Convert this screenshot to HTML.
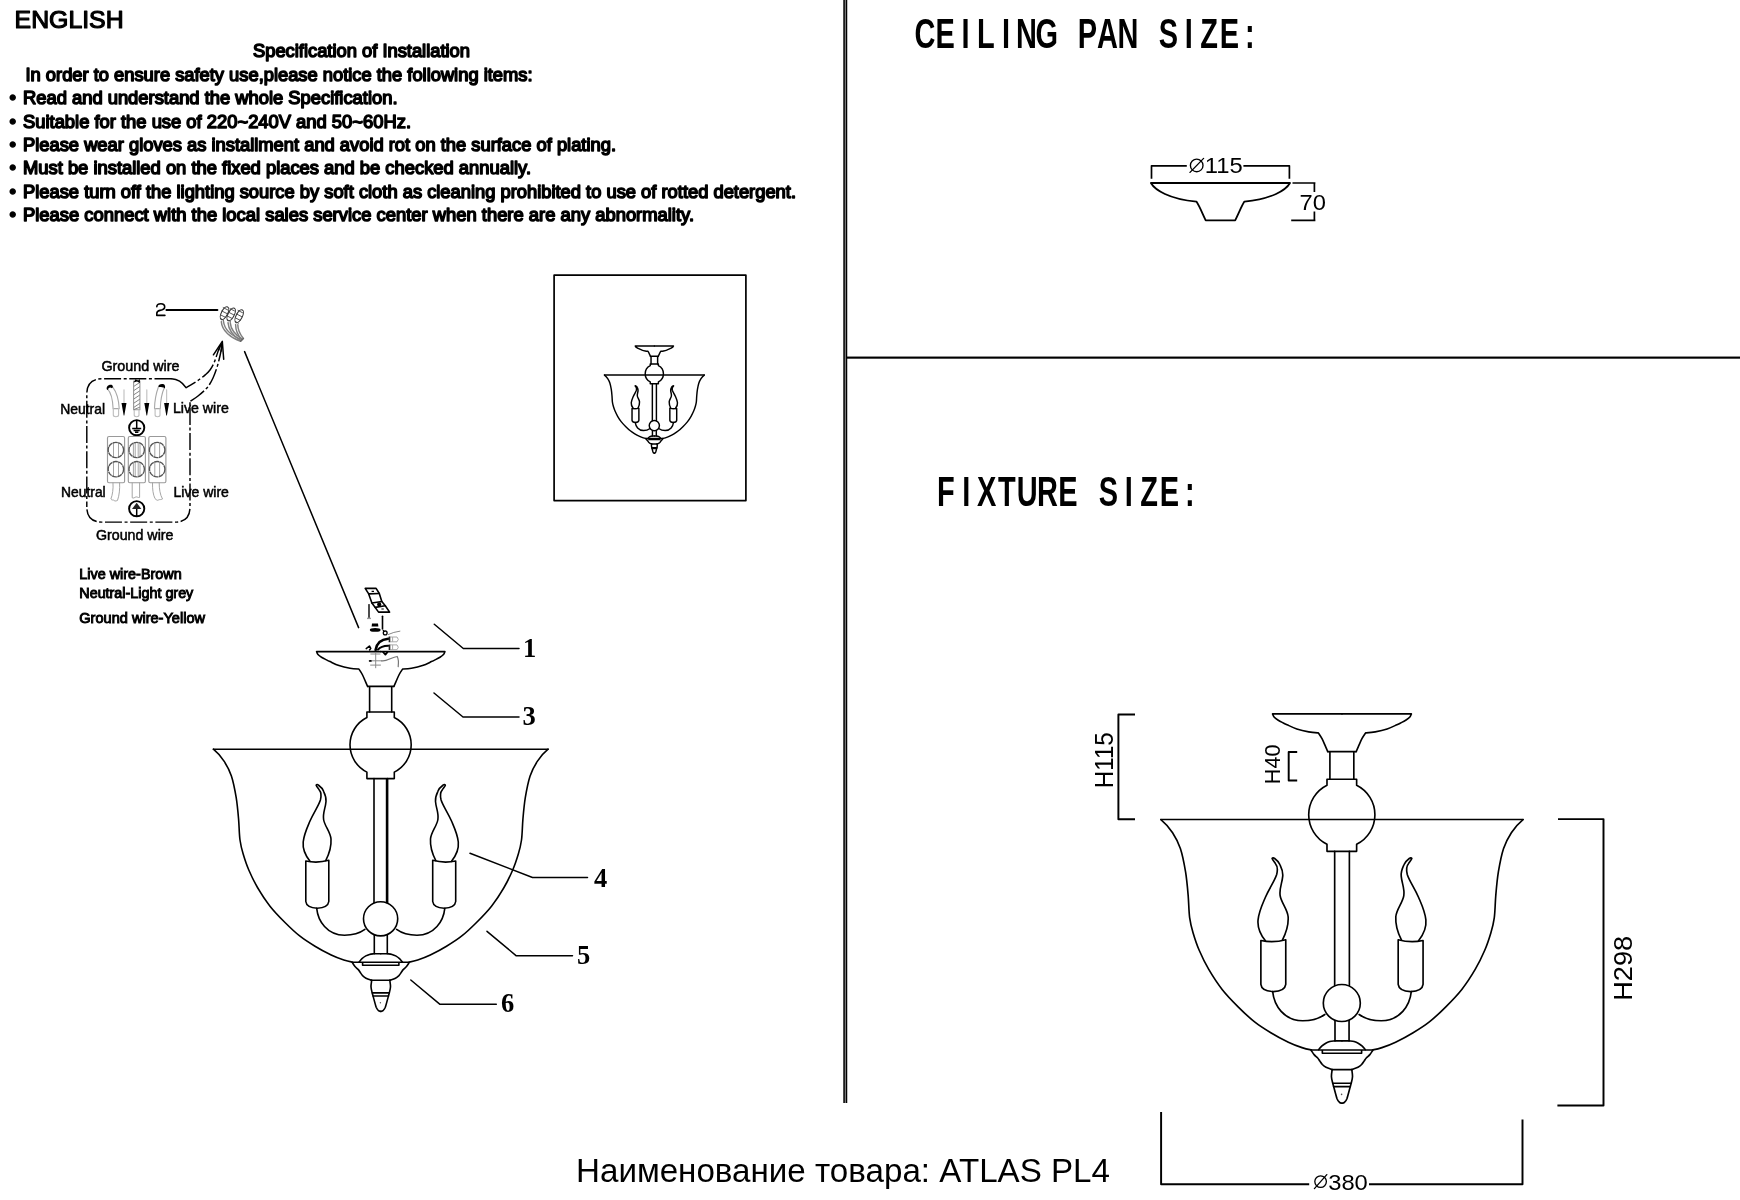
<!DOCTYPE html>
<html lang="en">
<head>
<meta charset="utf-8">
<title>ATLAS PL4 - Specification of Installation</title>
<style>
  html, body { margin: 0; padding: 0; background: #ffffff; }
  body { width: 1740px; height: 1200px; overflow: hidden; position: relative;
         font-family: "Liberation Sans", sans-serif; color: #000; }
  svg { position: absolute; left: 0; top: 0; display: block; will-change: transform; }
  text { font-family: "Liberation Sans", sans-serif; fill: #000; }
  .spec text { font-size: 18.35px; stroke: #000; stroke-width: 1.5px; stroke-linejoin: round; paint-order: stroke; }
  .wl text { font-size: 14.3px; stroke: #000; stroke-width: 0.5px; }
  .num text { font-family: "Liberation Serif", serif; font-weight: bold; font-size: 26.5px; }
  .ttl text { font-weight: bold; font-size: 42px; text-anchor: middle; }
  .ln { fill: none; stroke: #000; stroke-linecap: round; stroke-linejoin: round; }
  .fx * { vector-effect: non-scaling-stroke; }
</style>
</head>
<body>
<svg width="1740" height="1200" viewBox="0 0 1740 1200">
<defs>

<!-- one half (left side) of the fixture, mirrored about x=380.75 -->
<g id="fxhalf" class="fx">
  <!-- glass bowl outline -->
  <path d="M213.4,749.2 C215.5,750.9 221.3,756.9 224.2,761.4 C227.1,765.9 229.4,769.9 231.4,775.9 C233.4,781.9 235,790.4 236.2,797.6 C237.4,804.9 238,812.3 238.6,819.4 C239.2,826.5 239.2,834.3 240,840 C240.8,845.7 241.6,848.8 243.1,853.8 C244.6,858.8 246.3,864.4 248.8,870 C251.2,875.6 254,881.5 257.5,887.5 C261,893.5 265.4,900.4 270,906.2 C274.6,912.1 280,917.5 285,922.5 C290,927.5 295,932.3 300,936.2 C305,940.2 309.8,943.1 315,946.2 C320.2,949.4 326.5,952.7 331.2,955 C336,957.3 340.2,958.8 343.8,960 C347.3,961.2 351,961.9 352.5,962.2"/>
  <!-- candle sleeve -->
  <path d="M305.8,861 Q317.3,863.5 328.8,860.3 V901.5 Q328,907.8 317.3,908.2 Q306.5,907.8 305.8,901.5 Z"/>
  <!-- flame bulb -->
  <path d="M310,861.3 C305,855 302.6,848 303.2,842 C304,834 307,828 310,821 C314,812 318.5,806 320.4,800 C321.4,796 321,792 319.3,790 C318.3,788.3 316.6,786.6 316.2,785.2 C316.6,784.4 317.6,784.4 318.3,785 C321,787 322.8,789 323.6,791.3 C325.4,795 326.3,798 326,801.5 C325.5,808 322.6,813 323.6,819.5 C324.6,826 330.4,832 331,839 C331.5,847 328.6,855 325.7,860.6"/>
  <!-- arm -->
  <path d="M316.7,908.3 C318,921 327,935.2 344.5,935.2 C353,935.2 360,933 364.9,929.4"/>
  <!-- ceiling cup half -->
  <path d="M380.75,651.6 H316.6 C316.8,652.1 317.2,653.6 318,654.5 C318.8,655.4 320.2,656.4 321.5,657.2 C322.8,658 324.1,658.7 325.5,659.4 C326.9,660.1 327.8,660.6 330,661.6 C332.2,662.6 335.7,664.4 339,665.5 C342.3,666.6 346.7,667.6 350,668.2 C353.3,668.8 357.4,669 358.9,669.1 C359.5,670 361.2,672.4 362.3,674.5 C363.4,676.6 364.7,679.8 365.6,681.8 C366.5,683.8 367.3,685.7 367.6,686.5"/>
  <!-- finial half -->
  <path d="M359.2,961.9 C359.7,961.4 360.9,959.6 362,958.6 C363.1,957.6 364.6,956.6 365.8,955.9 C367.1,955.2 368.2,954.8 369.5,954.4 C370.8,954 373,953.9 373.8,953.8 H380.75"/>
  <path d="M352.3,962.6 C352.8,963.2 354,965.3 355,966.5 C356,967.7 357.4,968.6 358.3,969.6 C359.2,970.6 359.6,971.5 360.3,972.5 C361,973.5 361.7,974.6 362.6,975.6 C363.6,976.6 364.5,977.4 366,978.2 C367.5,979 370.8,979.9 371.7,980.2"/>
  <path d="M371.7,980.3 C371.6,981.4 370.9,984.7 371,986.7 C371.1,988.7 371.7,990.8 372.1,992.5 C372.5,994.2 372.6,994.4 373.3,996.9 C374,999.4 375.4,1005 376.2,1007.3 C377.1,1009.6 377.8,1009.9 378.5,1010.6 C379.2,1011.3 380.2,1011.3 380.6,1011.4"/>
</g>
<g id="fixture" class="fx">
  <use href="#fxhalf"/>
  <use href="#fxhalf" transform="translate(761.5,0) scale(-1,1)"/>
  <!-- bowl rim -->
  <path d="M213.4,749.2 H548.1"/>
  <!-- cup bottom + tube -->
  <path d="M367.8,686.4 H393.7 M369.6,686.4 V712 M391.7,686.4 V712"/>
  <!-- upper ball with collars -->
  <path d="M366.9,717.5 V712 H394.3 V717.5 A30.5,30.5 0 0 1 394.3,772.1 V778.6 H366.9 V772.1 A30.5,30.5 0 0 1 366.9,717.5 Z"/>
  <!-- main stem -->
  <path d="M374,778.6 V902.8 M387.6,778.6 V902.8"/>
  <!-- lower ball -->
  <circle cx="380.6" cy="918.8" r="17.1"/>
  <!-- lower stem -->
  <path d="M374.3,935 V953.8 M387.3,935 V953.8"/>
  <!-- finial plate + rings -->
  <path d="M352.4,962.2 H409.1 M362.6,962.6 V965.2 H398.9 V962.6"/>
  <path d="M371,980.3 H390.5 M372.4,992.9 H389.1 M373,996 H388.5"/>
</g>

</defs>

<!-- page dividers -->
<g id="dividers">
  <rect x="843.3" y="0" width="3.95" height="1103" fill="#000"/>
  <rect x="844.75" y="0" width="1.25" height="1103" fill="#787878"/>
  <rect x="846" y="356.55" width="894" height="2.15" fill="#000"/>
</g>

<!-- left text block -->
<g class="spec" id="spec">
  <text x="14.6" y="28.1" style="font-size:24.6px;stroke-width:1.2px" textLength="109" lengthAdjust="spacingAndGlyphs">ENGLISH</text>
  <text x="253" y="56.5" textLength="217" lengthAdjust="spacingAndGlyphs">Specification of Installation</text>
  <text x="25.5" y="81" textLength="507" lengthAdjust="spacingAndGlyphs">In order to ensure safety use,please notice the following items:</text>
  <text x="9.5" y="104">•</text>
  <text x="23" y="104" textLength="374.5" lengthAdjust="spacingAndGlyphs">Read and understand the whole Specification.</text>
  <text x="9.5" y="127.5">•</text>
  <text x="23" y="127.5" textLength="388" lengthAdjust="spacingAndGlyphs">Suitable for the use of 220~240V and 50~60Hz.</text>
  <text x="9.5" y="151">•</text>
  <text x="23" y="151" textLength="593" lengthAdjust="spacingAndGlyphs">Please wear gloves as installment and avoid rot on the surface of plating.</text>
  <text x="9.5" y="174">•</text>
  <text x="23" y="174" textLength="508" lengthAdjust="spacingAndGlyphs">Must be installed on the fixed places and be checked annually.</text>
  <text x="9.5" y="197.5">•</text>
  <text x="23" y="197.5" textLength="773" lengthAdjust="spacingAndGlyphs">Please turn off the lighting source by soft cloth as cleaning prohibited to use of rotted detergent.</text>
  <text x="9.5" y="221">•</text>
  <text x="23" y="221" textLength="671" lengthAdjust="spacingAndGlyphs">Please connect with the local sales service center when there are any abnormality.</text>
</g>

<!-- section titles (monospaced look) -->
<g class="ttl" id="titles">
  <g transform="translate(0,48.2) scale(0.69,1)">
    <text y="0" x="1340.4 1369.9 1399.3 1428.7 1458.1 1487.5 1517.0 1546.4 1575.8 1605.2 1634.6 1664.1 1693.5 1722.9 1752.3 1781.7 1811.2">CEILING PAN SIZE:</text>
  </g>
  <g transform="translate(0,505.7) scale(0.69,1)">
    <text y="0" x="1370.9 1400.3 1429.8 1459.2 1488.7 1518.1 1547.6 1577.0 1606.5 1635.9 1665.4 1694.8 1724.3">FIXTURE SIZE:</text>
  </g>
</g>

<!-- product name -->
<text id="prod" x="576" y="1181.7" style="font-size:33.1px" textLength="534" lengthAdjust="spacingAndGlyphs">Наименование товара: ATLAS PL4</text>


<!-- wiring diagram -->
<g id="wiring">
  <!-- number 2 + leader -->
  <path class="ln" style="stroke-width:1.6px" d="M156.8,306.8 C156.8,304.3 158.8,303.7 160.9,303.7 C163.4,303.7 164.7,305 164.7,307 C164.7,309.3 162.2,310 160,310.4 C157.6,310.9 156.8,312 156.8,313.6 V315.4 H164.9"/>
  <path class="ln" style="stroke-width:1.9px" d="M166.4,310 H217.4"/>
  <!-- twist-on wire connectors with tails -->
  <g fill="none" stroke="#808080" stroke-width="1.45" stroke-linecap="round">
    <path d="M221.3,321.6 C222,331 231,338 240.6,341.2 M223.4,321 C224.4,329.5 232,336 241.4,339.4"/>
    <path d="M228,322.6 C228.6,330.5 234,336.5 240.8,340.6 M230.2,322.6 C230.8,329.5 235.5,335 242,338.8"/>
    <path d="M235.6,324.4 C235.6,330.5 238,335.5 242,339.8 M237.8,324.6 C237.8,330 240,334.5 243.4,338.4"/>
    <path d="M240.6,341.2 L243.4,338.4" stroke="#666"/>
  </g>
  <g fill="#fff" stroke="#333" stroke-width="1.1">
    <ellipse cx="224.5" cy="313.2" rx="3.1" ry="7" transform="rotate(27 224.5 313.2)"/>
    <ellipse cx="231.2" cy="314.4" rx="3.1" ry="7" transform="rotate(27 231.2 314.4)"/>
    <ellipse cx="239.2" cy="316.2" rx="3.1" ry="7" transform="rotate(27 239.2 316.2)"/>
  </g>
  <g fill="none" stroke="#444" stroke-width="0.9" stroke-linecap="round">
    <path d="M223.2,307.6 L227.8,310 M221.8,311 L227,313.6 M220.8,315 L225.6,317.4 M220.6,318.6 L223.6,320.2"/>
    <path d="M230,308.6 L234.6,311 M228.6,312.2 L233.6,314.8 M227.6,316.2 L232.4,318.6 M227.4,319.8 L230.4,321.4"/>
    <path d="M238,310.4 L242.6,312.8 M236.6,314 L241.6,316.6 M235.6,318 L240.4,320.4 M235.4,321.6 L238.4,323.2"/>
  </g>

  <!-- dash-dot enclosure with call-out arrow -->
  <g class="ln" style="stroke-width:1.45px;stroke-linecap:butt" stroke-dasharray="17 2.6 3 2.6">
    <path d="M171.5,378.8 H102 Q86.8,378.8 86.8,394 V507"/>
    <path id="boxb" d="M86.8,507 Q86.8,522.1 102,522.1 H175 Q190,522.1 190,507 V401.4" stroke-dashoffset="23"/>
    <path d="M186,387.6 C187.2,386.9 190.7,385 193,383.6 C195.3,382.2 197.9,380.5 200,379 C202.1,377.5 203.8,376.1 205.5,374.6 C207.2,373.1 208.7,371.8 210,370 C211.3,368.2 212.5,366.1 213.5,364 C214.5,361.9 215.2,359.8 216,357.5 C216.8,355.2 217.7,352.1 218.5,350 C219.3,347.9 220.2,345.8 220.6,345" stroke-dashoffset="6"/>
    <path d="M190.4,401.2 C191.7,400.3 195.6,397.9 198,396 C200.4,394.1 203.1,391.9 205,390 C206.9,388.1 208.2,386.5 209.5,384.5 C210.8,382.5 211.8,380.6 213,378 C214.2,375.4 215.5,372 216.5,369 C217.5,366 218.3,362.8 219,360 C219.7,357.2 220.3,354.8 220.8,352 C221.3,349.2 222,344.5 222.2,343"/>
  </g>
  <path class="ln" style="stroke-width:1.6px" d="M171.5,378.8 C178,379.2 182.5,382.5 186,387.6"/>
  <g class="ln" style="stroke-width:1.5px">
    <path d="M213.4,354.8 L222.3,341.4 L223.7,359.3"/>
    <path d="M220.9,344.6 L218.6,350.4 M222,344 L221.2,351.2" style="stroke-width:1.3px"/>
  </g>

  <!-- incoming wires (top) -->
  <g fill="none" stroke="#a8a8a8" stroke-width="1.1" stroke-linecap="round" stroke-linejoin="round">
    <path d="M107.6,389.2 C111,392.5 112.6,398 113.1,408.6 M112.6,386.8 C116.5,392 118.8,399 119.2,408.6 M113.1,408.6 H119.2"/>
    <path d="M113.3,408.6 V415 Q113.3,416.7 115.9,416.7 Q118.6,416.7 118.6,415 V408.6" stroke="#bdbdbd"/>
    <path d="M158.4,387 C155.8,394 154.7,401 154.5,408.6 M164.4,387.6 C161.5,394 160.5,401 160.3,408.6 M154.5,408.6 H160.3"/>
    <path d="M155.1,408.6 V415 Q155.1,416.7 157.6,416.7 Q160,416.7 160,415 V408.6" stroke="#bdbdbd"/>
    <path d="M133.6,381 V409.7 M139.9,381 V409.7 M133.6,409.7 H139.9" stroke="#999"/>
    <path d="M134.2,409.7 V415 Q134.2,416.7 136.6,416.7 Q139,416.7 139,415 V409.7" stroke="#bdbdbd"/>
    <path d="M124,389.8 V403 M146.8,389.8 V403 M166.6,389.8 V403" stroke="#c4c4c4" stroke-width="1.2"/>
  </g>
  <g stroke="#777" stroke-width="0.9" fill="none">
    <path d="M133.8,386.4 L139.8,382.4 M133.8,390.6 L139.8,386.6 M133.8,394.8 L139.8,390.8 M133.8,399 L139.8,395 M133.8,403.2 L139.8,399.2 M133.8,407.4 L139.8,403.4 M133.8,409.6 L139.8,407.2"/>
  </g>
  <path d="M106.9,389.6 C105.8,386.6 108.6,384.2 111.6,384.8 C113.2,385.2 113.2,387.8 112,388.2 C110.2,387 108.6,387.4 107.9,389.9 Z" fill="#000"/>
  <path d="M158.3,386.8 C158,384.6 160.8,383.6 163,384 C165,384.3 165.6,386.6 164.8,388.4 C163.6,387 160.6,387.6 158.3,386.8 Z" fill="#000"/>
  <path d="M133.6,382.6 L135.4,379.2 L138.2,380.4 L139.9,379 V383 L137,381.6 Z" fill="#000"/>
  <!-- direction arrows -->
  <path d="M121.5,403 H126.5 L124.3,415.4 H123.7 Z M144.3,403 H149.3 L147.1,415.4 H146.5 Z M164.1,403 H169.1 L166.9,415.4 H166.3 Z" fill="#000"/>

  <!-- earth symbols -->
  <g class="ln" style="stroke-width:1.9px"><circle cx="136.7" cy="427.7" r="7.6"/><circle cx="136.7" cy="508.7" r="7.6"/></g>
  <g class="ln" style="stroke-width:1.5px;stroke-linecap:butt">
    <path d="M136.7,421 V428.3 M132.2,428.4 H141.2 M133.6,430.5 H139.8 M135,432.3 H138.4"/>
    <path d="M136.7,508 V516"/>
  </g>
  <path d="M136.7,502.8 L141.4,509 H132 Z" fill="#222"/>

  <!-- terminal block -->
  <g fill="none" stroke="#9a9a9a" stroke-width="1.15">
    <rect x="107.5" y="436.5" width="17.1" height="46.2" rx="1.5"/>
    <rect x="128.3" y="436.5" width="17.1" height="46.2" rx="1.5"/>
    <rect x="148.8" y="436.5" width="17.1" height="46.2" rx="1.5"/>
  </g>
  <g fill="none" stroke="#9a9a9a" stroke-width="0.9">
    <path d="M113.5,442.6 V457.4 M118.5,442.6 V457.4 M113.5,461.8 V476.6 M118.5,461.8 V476.6"/>
    <path d="M133.4,442.8 V457.2 M135.2,442.4 V457.6 M138.2,442.4 V457.6 M140,442.8 V457.2 M133.4,462 V476.4 M135.2,461.6 V476.8 M138.2,461.6 V476.8 M140,462 V476.4"/>
    <path d="M154.8,442.6 V457.4 M159.6,442.6 V457.4 M154.8,461.8 V476.6 M159.6,461.8 V476.6"/>
  </g>
  <g fill="none" stroke="#555" stroke-width="1.35" stroke-dasharray="5 0.5">
    <circle cx="115.9" cy="450" r="7.7"/><circle cx="115.9" cy="469.2" r="7.7"/>
    <circle cx="136.7" cy="450" r="7.7"/><circle cx="136.7" cy="469.2" r="7.7"/>
    <circle cx="157.2" cy="450" r="7.7"/><circle cx="157.2" cy="469.2" r="7.7"/>
  </g>
  <!-- outgoing wires (bottom) -->
  <g fill="none" stroke="#9c9c9c" stroke-width="0.9" stroke-linecap="round" stroke-linejoin="round">
    <path d="M113,483 C113.4,489 112.6,494.5 110.9,499 C112,500.8 113.4,499.4 114.2,500.6 C115.4,501.4 116.6,500.8 117.5,500.4 C119.4,495 119.9,489 119.6,483"/>
    <path d="M132.2,483 V497.8 C133.6,498.6 134.6,497.4 135.8,497 C137,496.4 138,498 139.6,497.4 V483"/>
    <path d="M152.5,483 C152.4,489 153,494.5 155,498.6 C156.4,499.8 157.4,500.8 158.4,500 C159.8,499.2 161,500 162.5,499 C160,494.5 159.2,489 159.2,483"/>
  </g>

  <!-- labels -->
  <g class="wl">
    <text x="101.4" y="370.8" textLength="78" lengthAdjust="spacingAndGlyphs">Ground wire</text>
    <text x="60.2" y="414.3" textLength="44.9" lengthAdjust="spacingAndGlyphs">Neutral</text>
    <text x="172.9" y="413.3" textLength="55.9" lengthAdjust="spacingAndGlyphs">Live wire</text>
    <text x="61" y="497.3" textLength="44.7" lengthAdjust="spacingAndGlyphs">Neutral</text>
    <text x="173.5" y="496.8" textLength="55.4" lengthAdjust="spacingAndGlyphs">Live wire</text>
    <text x="95.9" y="539.5" textLength="77.6" lengthAdjust="spacingAndGlyphs">Ground wire</text>
    <g>
    <text x="79.3" y="579" textLength="102.4" lengthAdjust="spacingAndGlyphs" style="stroke-width:0.95px">Live wire-Brown</text>
    <text x="79.3" y="598.3" textLength="114" lengthAdjust="spacingAndGlyphs" style="stroke-width:0.95px">Neutral-Light grey</text>
    <text x="79.3" y="622.7" textLength="125.7" lengthAdjust="spacingAndGlyphs" style="stroke-width:0.95px">Ground wire-Yellow</text>
    </g>
  </g>
</g>


<!-- LEFT: exploded fixture with part numbers -->
<g id="leftfx">
  <use href="#fixture" class="ln" style="stroke-width:1.6px"/>
  <circle cx="380.4" cy="1002.8" r="0.7" fill="#555"/>
  <path class="ln" d="M386.4,778.6 V902.8" style="stroke-width:1.2px"/>
  <!-- long leader from wires (2) to canopy -->
  <path class="ln" d="M244.6,351.6 L358.6,627.6" style="stroke-width:1.5px"/>
  <!-- part leaders -->
  <g class="ln" style="stroke-width:1.5px">
    <path d="M434.3,624.2 L463.3,648.5 H519"/>
    <path d="M434,693 L463,717 H519"/>
    <path d="M470,853.3 L532.5,877.5 H587.5"/>
    <path d="M487,931.3 L516.3,955.8 H572.5"/>
    <path d="M410.8,980 L440,1004.3 H496.3"/>
  </g>
  <g class="num">
    <text x="523" y="656.5">1</text>
    <text x="522.5" y="725">3</text>
    <text x="594" y="886.5">4</text>
    <text x="577" y="963.6">5</text>
    <text x="501" y="1012.3">6</text>
  </g>

  <!-- mounting hardware above the canopy -->
  <g id="hw">
    <g class="ln" style="stroke-width:1.6px">
      <path d="M365.2,588.4 H376.1 L379.3,593.5 L381.8,601.5 L385.3,605.8 L389.6,612.1 H378.6 L371.9,603 L368.7,593.9 Z"/>
      <path d="M368.7,593.9 L379.3,593.5 M371.9,603 L381.8,601.5 M375.2,607.4 L385.3,605.8"/>
    </g>
    <circle cx="379.2" cy="604.4" r="2.1" fill="#000"/>
    <path d="M371.6,591.4 H374 M381.4,609 H383.8" stroke="#000" stroke-width="1.1" fill="none"/>
    <path class="ln" style="stroke-width:1.4px" d="M369,604.6 V617.6"/>
    <path d="M367,618.4 H371" stroke="#999" stroke-width="1.4" fill="none"/>
    <path class="ln" style="stroke-width:1.6px" d="M382.5,616.2 V629"/>
    <path d="M372,623.6 H378 L378.4,626.6 H371.6 Z" fill="#000"/>
    <ellipse cx="375.2" cy="629.9" rx="5.4" ry="1.9" fill="#000"/>
    <circle cx="385.2" cy="632.9" r="1.9" class="ln" style="stroke-width:1.3px"/>
    <path d="M383.2,630.4 L384,631.4" class="ln" style="stroke-width:1.3px"/>
    <path d="M388,634.6 Q393.5,632 400.3,631.1" stroke="#888" stroke-width="1" fill="none"/>
    <path class="ln" style="stroke-width:2.6px" d="M375.6,650 C376.5,644 379.5,639.4 388.2,638.7"/>
    <path class="ln" style="stroke-width:2px" d="M378,649.6 C380,647 383,645.8 388.2,645.7"/>
    <g fill="none" stroke="#aaa" stroke-width="1">
      <path d="M390,637 H397 Q399.6,639.4 397,641.8 H390 Z M392.6,637 V641.8"/>
      <path d="M390,644.9 H397 Q399.6,647.3 397,649.7 H390 Z M392.6,644.9 V649.7"/>
    </g>
    <path d="M389.4,636.6 V642.2 M389.4,644.5 V650" stroke="#222" stroke-width="1.5" fill="none"/>
    <path class="ln" style="stroke-width:1.5px" d="M366.2,648.6 L369.4,646 L370.8,648.4 L369.6,650"/>
    <path d="M383,652 L385.4,654.6 L387.4,652.2" class="ln" style="stroke-width:1.8px"/>
    <g fill="none" stroke="#8a8a8a" stroke-width="1" stroke-linecap="round">
      <path d="M375.7,653.4 V667.8 M370.8,654 H380 M369.2,660.8 H381.7 M370.6,665.1 H380.5"/>
      <path d="M381.7,660.8 C386,662 392,657 397.2,656.5 C398.6,659 398.6,663 398.2,666.6" stroke="#777" stroke-width="1.2"/>
    </g>
    <ellipse cx="370.3" cy="660.9" rx="1.5" ry="0.9" fill="#000"/>
  </g>

</g>


<!-- small product thumbnail in a frame -->
<g id="thumb">
  <rect x="554.1" y="275.2" width="191.8" height="225.4" class="ln" style="stroke-width:1.7px"/>
  <use href="#fixture" class="ln" style="stroke-width:1.45px" transform="translate(540.9,151.8) scale(0.298)"/>
</g>


<!-- ceiling pan with dimensions -->
<g id="cpan">
  <path class="ln" style="stroke-width:1.8px" d="M1150.9,183 H1290 C1286,190 1272,199 1244.4,201.6 C1241,207 1238.5,214 1235.2,220.3 H1205.7 C1202.5,214 1200,207 1196.4,201.6 C1169,199 1155,190 1150.9,183 Z"/>
  <g class="ln" style="stroke-width:1.7px;stroke-linecap:butt">
    <path d="M1151.5,178.8 V165.8 H1186.8 M1243.4,165.8 H1289.4 V178.8"/>
    <path d="M1292.5,183 H1315.4 M1314.4,183 V192 M1314.4,211.5 V220.3 M1291.2,220.3 H1315.4"/>
  </g>
  <g class="ln" style="stroke-width:1.35px"><circle cx="1196.7" cy="165.4" r="6.3"/><path d="M1190,172.4 L1203.6,158.4"/></g>
  <text x="1204.8" y="173.4" style="font-size:21.4px" textLength="38" lengthAdjust="spacingAndGlyphs">115</text>
  <text x="1299.6" y="209.9" style="font-size:22.4px" textLength="26.4" lengthAdjust="spacingAndGlyphs">70</text>
</g>


<!-- RIGHT: fixture with overall dimensions -->
<g id="rightfx">
  <use href="#fixture" class="ln" style="stroke-width:1.65px" transform="translate(930,8.9) scale(1.082)"/>
  <circle cx="1341.6" cy="1094.4" r="0.8" fill="#555"/>
  <g class="ln" style="stroke-width:1.95px;stroke-linecap:butt">
    <path d="M1135,714.4 H1118.4 V819.3 H1135"/>
    <path d="M1297.2,752 H1288.7 V780.4 H1297.2"/>
    <path d="M1558,819.1 H1603.5 V1105.4 H1557.4"/>
    <path d="M1161.1,1112 V1184.3 H1309.2 M1369,1184.3 H1522.5 V1119.6"/>
  </g>
  <text transform="translate(1113.1,788.2) rotate(-90)" style="font-size:25.4px" textLength="56" lengthAdjust="spacingAndGlyphs">H115</text>
  <text transform="translate(1280.3,784.2) rotate(-90)" style="font-size:21.6px" textLength="39.6" lengthAdjust="spacingAndGlyphs">H40</text>
  <text transform="translate(1631.8,1000.8) rotate(-90)" style="font-size:25.2px" textLength="65" lengthAdjust="spacingAndGlyphs">H298</text>
  <g class="ln" style="stroke-width:1.3px"><circle cx="1320.6" cy="1181.6" r="5.8"/><path d="M1314.4,1188.6 L1326.8,1174.6"/></g>
  <text x="1328.2" y="1189.6" style="font-size:22.6px" textLength="39.6" lengthAdjust="spacingAndGlyphs">380</text>
</g>

</svg>
</body>
</html>
